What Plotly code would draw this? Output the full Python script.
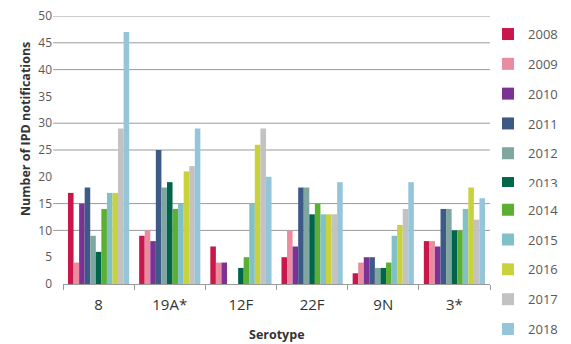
import plotly.graph_objects as go

serotypes = ["8", "19A*", "12F", "22F", "9N", "3*"]
years = ["2008", "2009", "2010", "2011", "2012", "2013", "2014", "2015", "2016", "2017", "2018"]

v2008 = [17, 9, 7, 5, 2, 8]
v2009 = [4, 10, 4, 10, 4, 8]
v2010 = [15, 8, 4, 7, 5, 7]
v2011 = [18, 25, 0, 18, 5, 14]
v2012 = [9, 18, 0, 18, 3, 14]
v2013 = [6, 19, 3, 13, 3, 10]
v2014 = [14, 14, 5, 15, 4, 10]
v2015 = [17, 15, 15, 13, 9, 14]
v2016 = [17, 21, 26, 13, 11, 18]
v2017 = [29, 22, 29, 13, 14, 12]
v2018 = [47, 29, 20, 19, 19, 16]

series = [v2008, v2009, v2010, v2011, v2012, v2013, v2014, v2015, v2016, v2017, v2018]
colors = ["#c8174a", "#ea8ba2", "#7b3294", "#3d5a86", "#7fa6a0", "#00664b",
          "#5bb033", "#80c0c6", "#c9d23a", "#c2c2c2", "#94c5d9"]

grid_vals = [10, 15, 25, 30, 40, 45, 50]

fig = go.Figure()
for i, (yr, vals) in enumerate(zip(years, series)):
    fig.add_trace(go.Bar(x=serotypes, y=vals, name=yr, marker_color=colors[i],
                         marker_line_width=0, legendgroup=yr,
                         legend="legend" if i < 6 else "legend2"))

for g in grid_vals:
    fig.add_shape(type="line", xref="x domain", x0=-0.023, x1=1, yref="y", y0=g, y1=g,
                  line=dict(color="#9a9a9a", width=1), layer="below")

fig.add_annotation(text="<b>Number of IPD notifications</b>", textangle=-90,
                   xref="paper", yref="paper", x=-0.089, y=0.578, xanchor="center", yanchor="middle",
                   showarrow=False, font=dict(family="Open Sans, sans-serif", size=12.5, color="#333333"))
fig.add_annotation(text="<b>Serotype</b>", xref="paper", yref="paper", x=0.5, y=-0.19,
                   xanchor="center", yanchor="middle", showarrow=False,
                   font=dict(family="Open Sans, sans-serif", size=12.5, color="#333333"))

legend_style = dict(xref="container", yref="container", xanchor="left", yanchor="top",
                    font=dict(size=13, color="#595959"), tracegroupgap=9.9,
                    itemwidth=30, bgcolor="rgba(0,0,0,0)", borderwidth=0)

fig.update_layout(
    width=563, height=336,
    margin=dict(l=55, r=81, t=8, b=60, autoexpand=False),
    paper_bgcolor="white", plot_bgcolor="rgba(0,0,0,0)",
    barmode="group", bargap=0.14, bargroupgap=0,
    font=dict(family="Open Sans, sans-serif", size=12, color="#595959"),
    legend=dict(x=0.8526, y=0.967, **legend_style),
    legend2=dict(x=0.8526, y=0.444, **legend_style),
    showlegend=True,
)
fig.update_xaxes(
    showgrid=False, showline=True, linecolor="#9a9a9a", linewidth=1,
    ticks="outside", tickson="boundaries", ticklen=5, tickcolor="#9a9a9a",
    tickfont=dict(size=15, color="#333333"), ticklabelstandoff=7,
)
fig.update_yaxes(
    range=[0, 50], dtick=5, showgrid=False, zeroline=False, showline=False,
    tickfont=dict(size=12, color="#595959"), ticklabelstandoff=10,
    ticklabeloverflow="allow",
)

fig.write_html("out.html")
